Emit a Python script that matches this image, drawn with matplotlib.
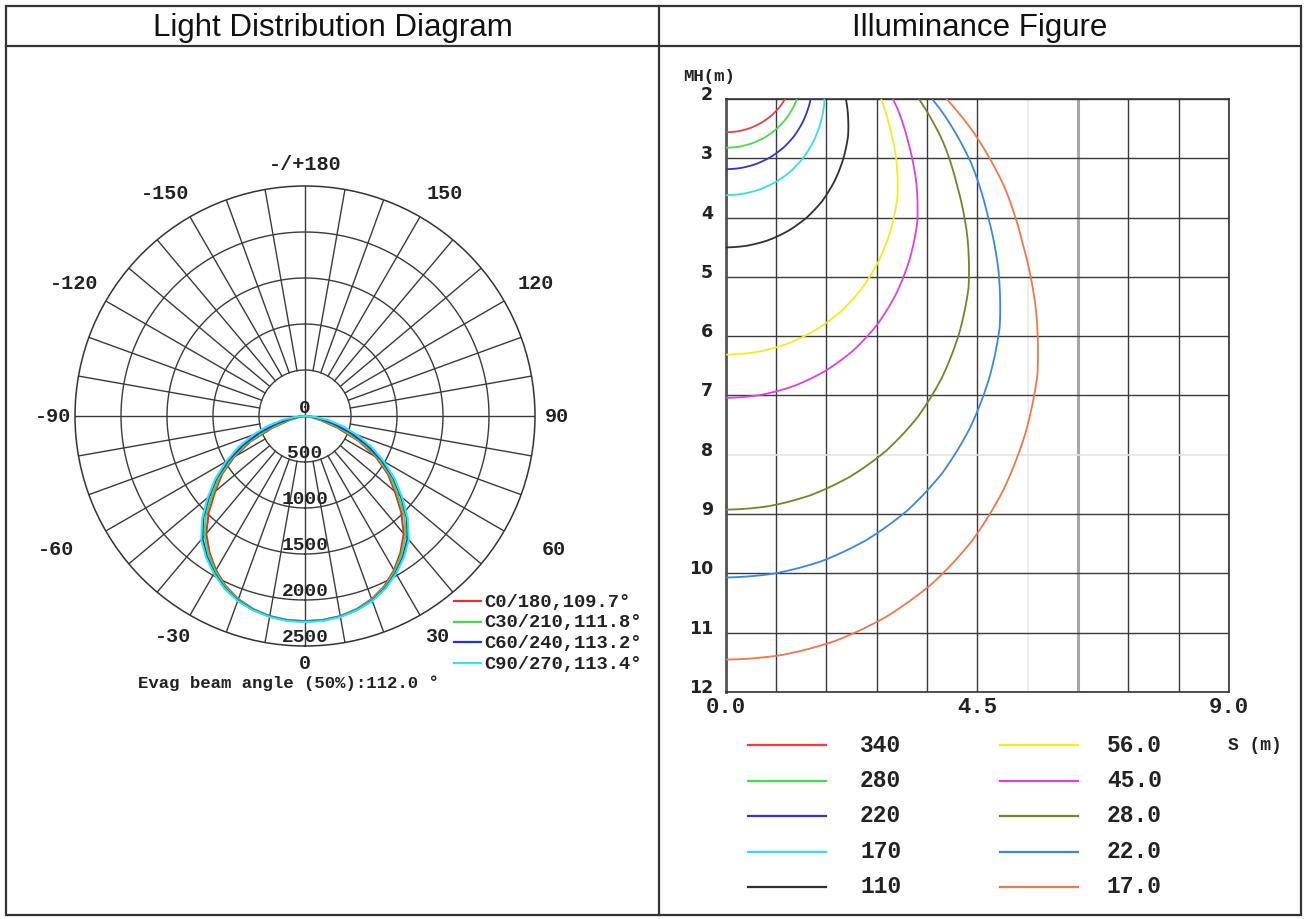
import numpy as np
import matplotlib
matplotlib.use("Agg")
import matplotlib.pyplot as plt
from matplotlib.lines import Line2D
from matplotlib.patches import Rectangle

# ---------------- data ----------------
angles_deg = [0, 5, 10, 15, 20, 25, 30, 35, 40, 45, 50, 55, 60, 65, 70, 75, 80, 85, 90]
c0_180 = [2230, 2226, 2208, 2172, 2118, 2040, 1935, 1810, 1670, 1480, 1275, 1100, 890, 650, 380, 180, 70, 20, 0]
c30_210 = [2230, 2226, 2210, 2176, 2125, 2050, 1950, 1830, 1700, 1525, 1310, 1130, 920, 690, 440, 230, 100, 30, 0]
c60_240 = [2235, 2231, 2214, 2182, 2135, 2064, 1970, 1860, 1735, 1565, 1360, 1170, 960, 740, 520, 320, 160, 60, 0]
c90_270 = [2240, 2236, 2218, 2186, 2140, 2070, 1980, 1875, 1755, 1580, 1380, 1190, 990, 800, 600, 420, 250, 100, 0]
plane_labels = ["C0/180,109.7°", "C30/210,111.8°", "C60/240,113.2°", "C90/270,113.4°"]
plane_colors = ["#e0303c", "#3ee03e", "#2232e0", "#30e6e6"]
beam_text = "Evag beam angle (50%):112.0 °"

ring_values = [500, 1000, 1500, 2000, 2500]
angle_labels = ["0", "30", "60", "90", "120", "150", "-/+180", "-150", "-120", "-90", "-60", "-30"]
angle_label_pos = [0, 31, 62, 90, 120, 148, 180, -148, -120, -90, -62, -31]

iso_values = [340, 280, 220, 170, 110, 56.0, 45.0, 28.0, 22.0, 17.0]
iso_labels = ["340", "280", "220", "170", "110", "56.0", "45.0", "28.0", "22.0", "17.0"]
iso_colors = ["#e8404a", "#44dd44", "#3434d0", "#36e0e0", "#303030",
              "#eeee22", "#e040e0", "#7a8228", "#3a88e0", "#f0784a"]
mh_ticks = [2, 3, 4, 5, 6, 7, 8, 9, 10, 11, 12]
s_ticks = [0.0, 4.5, 9.0]
s_tick_labels = ["0.0", "4.5", "9.0"]

W, H = 1306, 920
fig = plt.figure(figsize=(W / 100, H / 100), dpi=100)
fig.patch.set_facecolor("white")


def fx(x):
    return x / W


def fy(y):
    return 1 - y / H


# ---------------- table frame ----------------
edge = "#333333"
fig.add_artist(Rectangle((fx(6), fy(916)), fx(1301) - fx(6), fy(7) - fy(916),
                         transform=fig.transFigure, fill=False, lw=1.6, ec=edge))
fig.add_artist(Line2D([fx(6), fx(1301)], [fy(47), fy(47)], transform=fig.transFigure, lw=1.6, color=edge))
fig.add_artist(Line2D([fx(659), fx(659)], [fy(7), fy(916)], transform=fig.transFigure, lw=1.6, color=edge))
fig.text(fx(333), fy(28), "Light Distribution Diagram", ha="center", va="center",
         fontsize=22.5, family="Liberation Sans", color="#111111")
fig.text(fx(980), fy(28), "Illuminance Figure", ha="center", va="center",
         fontsize=22.5, family="Liberation Sans", color="#111111")

# ---------------- polar diagram ----------------
cx, cy, R = 305, 417, 230
pax = fig.add_axes([fx(cx - R), fy(cy + R), 2 * R / W, 2 * R / H], projection="polar")
pax.set_theta_zero_location("S")
pax.set_theta_direction(1)
pax.set_ylim(0, 2500)
pax.grid(False)
pax.set_xticks([])
pax.set_yticks([])
pax.spines["polar"].set_color(edge)
pax.spines["polar"].set_linewidth(1.1)

gc = "#3a3a3a"
th_full = np.linspace(0, 2 * np.pi, 721)
for rv in ring_values[:-1]:
    pax.plot(th_full, np.full_like(th_full, rv), color=gc, lw=1.0, zorder=1)
for a in range(0, 360, 10):
    t = np.radians(a)
    if a % 90 == 0:
        pax.plot([t, t], [0, 2500], color=gc, lw=1.0, zorder=1)
    else:
        pax.plot([t, t], [500, 2500], color=gc, lw=1.0, zorder=1)

ang = np.array(angles_deg, dtype=float)
full_ang = np.concatenate([-ang[::-1], ang[1:]])
for vals, col in zip([c0_180, c30_210, c60_240, c90_270], plane_colors):
    v = np.array(vals, dtype=float)
    full_v = np.concatenate([v[::-1], v[1:]])
    pax.plot(np.radians(full_ang), full_v, color=col, lw=1.5, zorder=3)

mono = "Liberation Mono"
label_r = {0: 2680, 31: 2780, 62: 3060, 90: 2740, 120: 2900, 148: 2860, 180: 2740}
for lab, a in zip(angle_labels, angle_label_pos):
    pax.text(np.radians(a), label_r[abs(a)], lab, ha="center", va="center",
             fontsize=14.5, family=mono, weight="bold", color="#222222", clip_on=False)
for rv in ring_values:
    pax.text(0, rv - 100, str(rv), ha="center", va="center", fontsize=14,
             family=mono, weight="bold", color="#222222", zorder=4)
pax.text(0, 0, "0", ha="center", va="bottom", fontsize=14, family=mono,
         weight="bold", color="#222222", zorder=4)

# polar legend
for i, (lab, col) in enumerate(zip(plane_labels, plane_colors)):
    yy = 602 + i * 20.7
    fig.add_artist(Line2D([fx(454), fx(481)], [fy(yy), fy(yy)], transform=fig.transFigure,
                          color=col, lw=1.6))
    fig.text(fx(484), fy(yy), lab, ha="left", va="center", fontsize=13.5,
             family=mono, weight="bold", color="#222222")
fig.text(fx(288), fy(683), beam_text, ha="center", va="center", fontsize=12.5,
         family=mono, weight="bold", color="#222222")

# ---------------- illuminance figure ----------------
x0, x1, y0, y1 = 725.5, 1229, 100, 693
iax = fig.add_axes([fx(x0), fy(y1), (x1 - x0) / W, (y1 - y0) / H])
iax.set_xlim(0, 9)
iax.set_ylim(12, 2)

for i in range(11):
    xv = 0.9 * i
    if i == 6:
        iax.axvline(xv, color="#ececec", lw=1.2, zorder=1)
    elif i == 7:
        iax.axvline(xv, color="#a8a8a8", lw=2.2, zorder=1)
    else:
        iax.axvline(xv, color=gc, lw=1.0, zorder=1)
for hv in mh_ticks:
    if hv == 8:
        iax.axhline(hv, color="#e4e4e4", lw=1.2, zorder=1)
    else:
        iax.axhline(hv, color=gc, lw=1.0, zorder=1)

sg = np.linspace(0, 9, 600)
hg = np.linspace(2, 12, 600)
SS, HH = np.meshgrid(sg, hg)
theta = np.degrees(np.arctan2(SS, HH))
Ival = np.interp(theta, ang, np.array(c0_180, dtype=float))
E = Ival * np.cos(np.radians(theta)) ** 3 / HH ** 2
order = np.argsort(iso_values)
lv = [iso_values[k] for k in order]
lc = [iso_colors[k] for k in order]
iax.contour(SS, HH, E, levels=lv, colors=lc, linewidths=1.3, zorder=3)

for sp in iax.spines.values():
    sp.set_color(edge)
    sp.set_linewidth(1.2)
iax.spines["left"].set_linewidth(2.0)
iax.spines["left"].set_color("#555555")

iax.set_yticks(mh_ticks)
iax.set_yticklabels([str(v) for v in mh_ticks], fontsize=12.5, family="DejaVu Sans",
                    weight="bold", color="#222222")
for t in iax.get_yticklabels():
    t.set_va("baseline")
iax.set_xticks(s_ticks)
iax.set_xticklabels(s_tick_labels, fontsize=16, family=mono, weight="bold", color="#222222")
iax.tick_params(axis="both", length=0)
iax.tick_params(axis="y", pad=9)
iax.tick_params(axis="x", pad=3)

fig.text(fx(709), fy(76), "MH(m)", ha="center", va="center", fontsize=12.5,
         family=mono, weight="bold", color="#222222")
fig.text(fx(1255), fy(745), "S (m)", ha="center", va="center", fontsize=13,
         family=mono, weight="bold", color="#222222")

# illuminance legend
for i in range(10):
    col_i, row_i = divmod(i, 5)
    yy = 746 + row_i * 35.5
    lx0 = 748 if col_i == 0 else 1000
    tx = 860 if col_i == 0 else 1107
    fig.add_artist(Line2D([fx(lx0), fx(lx0 + 78)], [fy(yy), fy(yy)], transform=fig.transFigure,
                          color=iso_colors[i], lw=1.6))
    fig.text(fx(tx), fy(yy - 1), iso_labels[i], ha="left", va="center", fontsize=16.5,
             family=mono, weight="bold", color="#222222")

fig.savefig("out.png", dpi=100, facecolor="white")
